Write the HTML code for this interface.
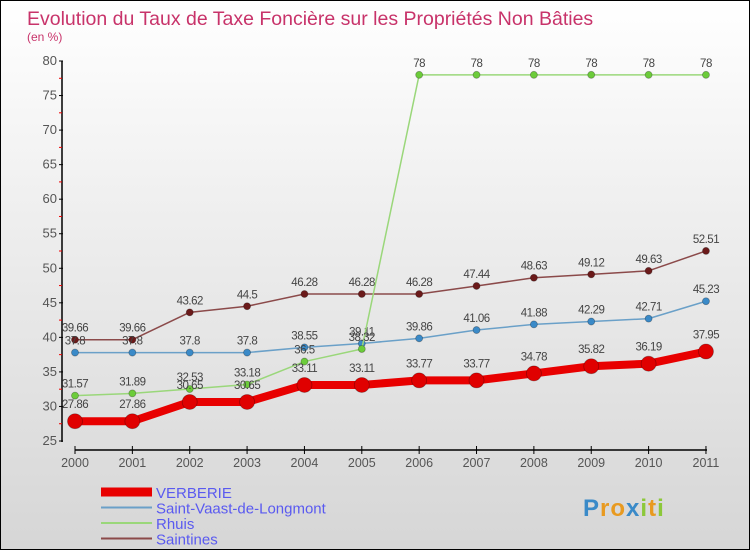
<!DOCTYPE html>
<html><head><meta charset="utf-8"><style>
html,body{margin:0;padding:0}
body{width:750px;height:550px;overflow:hidden;font-family:"Liberation Sans",sans-serif}
#wrap{position:relative;width:748px;height:548px;border:1px solid #000;background:linear-gradient(#fff 0%,#eee 40%,#d6d6d6 100%)}
</style></head><body>
<div id="wrap">
<svg id="chart" width="748" height="548" style="position:absolute;left:0;top:0;font-family:'Liberation Sans',sans-serif"></svg>
</div>
<script>
const years=[2000,2001,2002,2003,2004,2005,2006,2007,2008,2009,2010,2011];
const verberie=[27.86,27.86,30.65,30.65,33.11,33.11,33.77,33.77,34.78,35.82,36.19,37.95];
const saintVaast=[37.8,37.8,37.8,37.8,38.55,39.11,39.86,41.06,41.88,42.29,42.71,45.23];
const rhuis=[31.57,31.89,32.53,33.18,36.5,38.32,78,78,78,78,78,78];
const saintines=[39.66,39.66,43.62,44.5,46.28,46.28,46.28,47.44,48.63,49.12,49.63,52.51];
const yTicks=[25,30,35,40,45,50,55,60,65,70,75,80];
const NS="http://www.w3.org/2000/svg";
const svg=document.getElementById('chart');
function x(i){return 74+i*57.36;}
function y(v){return 440-(v-25)*6.909;}
function el(t,a,p){const e=document.createElementNS(NS,t);for(const k in a)e.setAttribute(k,a[k]);(p||svg).appendChild(e);return e;}
let t=el('text',{x:26,y:24,'font-size':19.5,fill:'#c8336a'});t.textContent='Evolution du Taux de Taxe Foncière sur les Propriétés Non Bâties';

t=el('text',{x:26,y:40,'font-size':12,fill:'#c8336a'});t.textContent='(en %)';

let a=el('line',{x1:61,y1:60,x2:61,y2:441,stroke:'#000','stroke-width':1.5});

a=el('line',{x1:74,y1:449,x2:706,y2:449,stroke:'#000','stroke-width':1.5});

yTicks.forEach(v=>{
 el('line',{x1:58,y1:y(v),x2:62,y2:y(v),stroke:'#000'});
 if(v<80)el('line',{x1:58,y1:y(v+2.5),x2:61,y2:y(v+2.5),stroke:'#e00'});
 const l=el('text',{x:56,y:y(v)+4,'font-size':13,fill:'#555','text-anchor':'end'});l.textContent=v;
 
});
years.forEach((yr,i)=>{
 el('line',{x1:x(i),y1:445,x2:x(i),y2:453,stroke:'#000'});
 const l=el('text',{x:x(i),y:466,'font-size':12.5,fill:'#555','text-anchor':'middle'});l.textContent=yr;
 
});
function series(data,color,dot,w,r,name,dy){
 const g=el('g',{});
 
 const p=el('polyline',{points:data.map((v,i)=>x(i)+','+y(v)).join(' '),fill:'none',stroke:color,'stroke-width':w,'stroke-linejoin':'round'},g);
 
 data.forEach((v,i)=>{
  const c=el('circle',{cx:x(i),cy:y(v),r:r,fill:dot,stroke:'rgba(0,0,0,0.3)','stroke-width':0.8},g);
  
  const l=el('text',{x:x(i),y:y(v)+dy,'font-size':11.5,fill:'#444','text-anchor':'middle','letter-spacing':'-0.5'},g);l.textContent=v;
  
 });
}
series(saintines,'#8b4a4a','#6b1a1a',1.5,3.5,'saintines',-8);
series(saintVaast,'#6aa0c8','#3a8ac8',1.5,3.5,'saint-vaast',-8);
series(rhuis,'#9ad77a','#6ccc3a',1.5,3.5,'rhuis',-8);
series(verberie,'#e80000','#e00000',8,7.5,'verberie',-13);
const leg=[['VERBERIE','#e80000',9],['Saint-Vaast-de-Longmont','#6aa0c8',2],['Rhuis','#9ad77a',2],['Saintines','#8b4a4a',2]];
leg.forEach((d,i)=>{
 const g=el('g',{});
 const yy=491+i*15.5;
 el('line',{x1:100,y1:yy,x2:151,y2:yy,stroke:d[1],'stroke-width':d[2]},g);
 const l=el('text',{x:155,y:yy+6,'font-size':15,fill:'#5a5af0'},g);l.textContent=d[0];
});
const lg=el('text',{x:582,y:515,'font-size':24,'font-weight':'bold','letter-spacing':'1'});

[['P','#3a8ac8'],['r','#e89a20'],['o','#e89a20'],['x','#3a8ac8'],['i','#8cc83a'],['t','#e89a20'],['i','#8cc83a']].forEach(c=>{const s=el('tspan',{fill:c[1]},lg);s.textContent=c[0];});
</script>
</body></html>
